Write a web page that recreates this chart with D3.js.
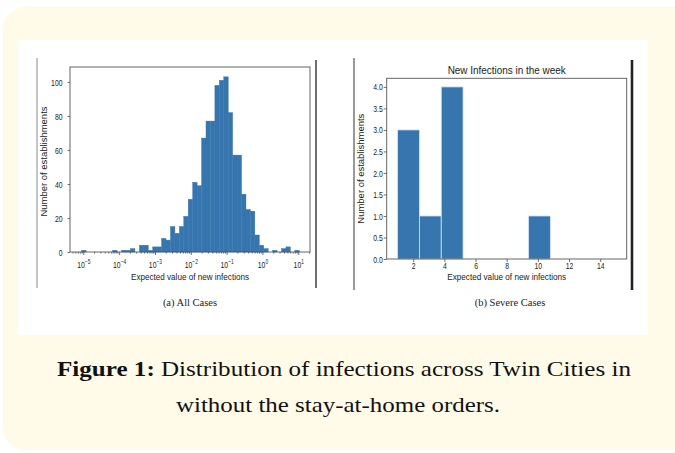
<!DOCTYPE html>
<html>
<head>
<meta charset="utf-8">
<script src="https://cdn.jsdelivr.net/npm/d3@7"></script>
<style>
html, body { margin: 0; padding: 0; background: #fff; }
svg { display: block; }
</style>
</head>
<body>
<svg id="fig" width="675" height="453"></svg>
<script>
// (a) all cases: counts in 49 log-spaced bins
var allCounts = [1,0,0,0,0,0,0,1,0,1,1,2,0,4,4,1,3,3,8,7,15,11,15,21,31,41,39,67,77,77,98,101,103,82,57,57,34,25,24,10,4,2,0,1,0,2,3,0,1];
var allEdgeExp = [-5.047, 1.028];   // log10 of first / last bin edge
var allXTickExp = [-5, -4, -3, -2, -1, 0, 1];
var allYTicks = [0, 20, 40, 60, 80, 100];

// (b) severe cases
var severeEdges = [1, 2.4, 3.8, 5.2, 6.6, 8, 9.4, 10.8, 12.2, 13.6, 15];
var severeCounts = [3, 1, 4, 0, 0, 0, 1, 0, 0, 0];
var severeXTicks = [2, 4, 6, 8, 10, 12, 14];
var severeYTicks = [0, 0.5, 1, 1.5, 2, 2.5, 3, 3.5, 4];

var xLabel = "Expected value of new infections";
var yLabel = "Number of establishments";
var severeTitle = "New Infections in the week";
var subCaptions = ["(a) All Cases", "(b) Severe Cases"];
var captionBold = "Figure 1:";
var captionLines = [" Distribution of infections across Twin Cities in", "without the stay-at-home orders."];

var barColor = "#3675ae";
var squeeze = 0.72;   // the screenshot is narrower than tall
var tickSize = 9.5;
var sans = "'Liberation Sans', Arial, sans-serif";
var serif = "'Liberation Serif', 'Times New Roman', serif";

var svg = d3.select("#fig");

// page background
svg.append("rect").attr("x", 3).attr("y", 7).attr("width", 700).attr("height", 443)
    .attr("rx", 22).attr("fill", "#fffbe8");
svg.append("rect").attr("x", 18).attr("y", 40).attr("width", 630).attr("height", 295)
    .attr("fill", "#fff");

// screenshot borders
function vline(x, y0, y1, col, w) {
    svg.append("line").attr("x1", x).attr("x2", x).attr("y1", y0).attr("y2", y1)
        .attr("stroke", col).attr("stroke-width", w);
}
vline(37, 58, 288, "#8a8a8a", 1);
vline(316, 60, 288, "#222", 1.3);
vline(354, 58, 290, "#777", 1.5);
vline(632, 60, 290, "#222", 2.6);

function styleTicks(g, isY, off) {
    g.attr("font-size", tickSize).attr("font-family", sans);
    g.select(".domain").remove();
    g.selectAll(".tick line").attr("stroke", "#333").attr("stroke-width", 0.7);
    g.selectAll(".tick text")
        .attr("font-family", sans).attr("font-size", tickSize).attr("fill", "#222")
        .attr("transform", "scale(" + squeeze + ",1)");
    if (isY) g.selectAll(".tick text").attr("x", -off / squeeze);
    else g.selectAll(".tick text").attr("y", off);
}

function hLabel(x, y, txt, size, len) {
    svg.append("text").attr("x", x).attr("y", y).attr("text-anchor", "middle")
        .attr("font-family", sans).attr("font-size", size).attr("fill", "#222")
        .attr("textLength", len).attr("lengthAdjust", "spacingAndGlyphs").text(txt);
}
function vLabel(x, y, txt, size, len) {
    svg.append("text").attr("transform", "translate(" + x + "," + y + ") rotate(-90)")
        .attr("text-anchor", "middle")
        .attr("font-family", sans).attr("font-size", size).attr("fill", "#222")
        .attr("textLength", len).attr("lengthAdjust", "spacingAndGlyphs").text(txt);
}

// ---------- (a) all cases ----------
var fa = {l: 70, r: 310, t: 67, b: 252};
var xA = d3.scaleLog().domain([Math.pow(10, -5.371), Math.pow(10, 1.327)]).range([fa.l, fa.r]);
var yA = d3.scaleLinear().domain([0, 108.8]).range([fa.b, fa.t]);

var nb = allCounts.length;
var allEdges = d3.range(nb + 1).map(function(i) {
    return Math.pow(10, allEdgeExp[0] + (allEdgeExp[1] - allEdgeExp[0]) * i / nb);
});
var allBins = allCounts.map(function(c, i) { return {x0: allEdges[i], x1: allEdges[i + 1], n: c}; })
    .filter(function(d) { return d.n > 0; });

svg.append("g").selectAll("rect").data(allBins).enter().append("rect")
    .attr("x", function(d) { return xA(d.x0); })
    .attr("width", function(d) { return xA(d.x1) - xA(d.x0); })
    .attr("y", function(d) { return yA(d.n); })
    .attr("height", function(d) { return fa.b - yA(d.n); })
    .attr("fill", barColor).attr("stroke", barColor).attr("stroke-width", 0.4);

// minor log ticks
var minor = [];
d3.range(-6, 2).forEach(function(e) {
    d3.range(2, 10).forEach(function(m) {
        var v = m * Math.pow(10, e);
        if (v > xA.domain()[0] && v < xA.domain()[1]) minor.push(v);
    });
});
var gMinor = svg.append("g").attr("transform", "translate(0," + fa.b + ")")
    .call(d3.axisBottom(xA).tickValues(minor).tickSize(1.6).tickFormat(""));
styleTicks(gMinor, false, 0);

var gxA = svg.append("g").attr("transform", "translate(0," + fa.b + ")")
    .call(d3.axisBottom(xA).tickValues(allXTickExp.map(function(e) { return Math.pow(10, e); }))
        .tickSize(3).tickFormat(""));
styleTicks(gxA, false, 0);
gxA.selectAll(".tick").each(function(v, i) {
    var t = d3.select(this).append("text")
        .attr("y", 16.5).attr("text-anchor", "middle")
        .attr("font-family", sans).attr("font-size", tickSize).attr("fill", "#222")
        .attr("transform", "scale(" + squeeze + ",1)");
    t.append("tspan").text("10");
    var e = allXTickExp[i];
    t.append("tspan").attr("dy", -4).attr("font-size", 6.8)
        .text(e < 0 ? "\u2212" + (-e) : String(e));
});

var gyA = svg.append("g").attr("transform", "translate(" + fa.l + ",0)")
    .call(d3.axisLeft(yA).tickValues(allYTicks).tickSize(2.5));
styleTicks(gyA, true, 7.5);

svg.append("rect").attr("x", fa.l).attr("y", fa.t).attr("width", fa.r - fa.l).attr("height", fa.b - fa.t)
    .attr("fill", "none").attr("stroke", "#555").attr("stroke-width", 0.9);

hLabel((fa.l + fa.r) / 2, 279.5, xLabel, 9, 118);
vLabel(47, (fa.t + fa.b) / 2 + 2, yLabel, 9, 110);

// ---------- (b) severe cases ----------
var fb = {l: 386.7, r: 626.7, t: 78.3, b: 259};
var xB = d3.scaleLinear().domain([0.3, 15.7]).range([fb.l, fb.r]);
var yB = d3.scaleLinear().domain([0, 4.2]).range([fb.b, fb.t]);

var sevBins = severeCounts.map(function(c, i) { return {x0: severeEdges[i], x1: severeEdges[i + 1], n: c}; })
    .filter(function(d) { return d.n > 0; });

svg.append("g").selectAll("rect").data(sevBins).enter().append("rect")
    .attr("x", function(d) { return xB(d.x0); })
    .attr("width", function(d) { return xB(d.x1) - xB(d.x0); })
    .attr("y", function(d) { return yB(d.n); })
    .attr("height", function(d) { return fb.b - yB(d.n); })
    .attr("fill", barColor).attr("stroke", "#d6e4f0").attr("stroke-width", 0.8);

var gxB = svg.append("g").attr("transform", "translate(0," + fb.b + ")")
    .call(d3.axisBottom(xB).tickValues(severeXTicks).tickSize(3).tickFormat(d3.format("d")));
styleTicks(gxB, false, 3.5);

var gyB = svg.append("g").attr("transform", "translate(" + fb.l + ",0)")
    .call(d3.axisLeft(yB).tickValues(severeYTicks).tickSize(3).tickFormat(d3.format(".1f")));
styleTicks(gyB, true, 4);

svg.append("rect").attr("x", fb.l).attr("y", fb.t).attr("width", fb.r - fb.l).attr("height", fb.b - fb.t)
    .attr("fill", "none").attr("stroke", "#555").attr("stroke-width", 0.9);

hLabel((fb.l + fb.r) / 2, 280, xLabel, 9, 119);
hLabel((fb.l + fb.r) / 2, 74, severeTitle, 10, 118);
vLabel(364, (fb.t + fb.b) / 2, yLabel, 9, 110);

// ---------- sub captions and figure caption ----------
[[190, subCaptions[0]], [510, subCaptions[1]]].forEach(function(d) {
    svg.append("text").attr("x", d[0]).attr("y", 306).attr("text-anchor", "middle")
        .attr("font-family", serif).attr("font-size", 10.5).attr("fill", "#222").text(d[1]);
});

var cap1 = svg.append("text").attr("x", 344).attr("y", 376).attr("text-anchor", "middle")
    .attr("font-family", serif).attr("font-size", 22).attr("fill", "#111")
    .attr("textLength", 574).attr("lengthAdjust", "spacingAndGlyphs");
cap1.append("tspan").attr("font-weight", "bold").text(captionBold);
cap1.append("tspan").text(captionLines[0]);

svg.append("text").attr("x", 338).attr("y", 412).attr("text-anchor", "middle")
    .attr("font-family", serif).attr("font-size", 22).attr("fill", "#111")
    .attr("textLength", 324).attr("lengthAdjust", "spacingAndGlyphs").text(captionLines[1]);
</script>
</body>
</html>
